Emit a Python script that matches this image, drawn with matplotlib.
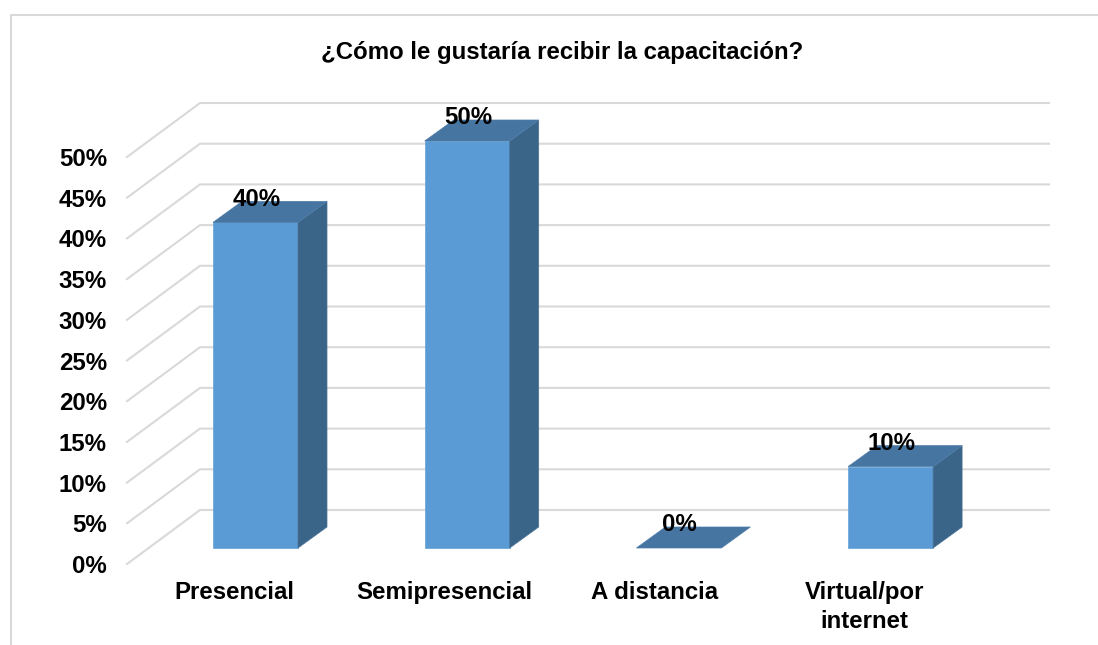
import numpy as np
import matplotlib
matplotlib.use("Agg")
import matplotlib.pyplot as plt
from matplotlib.patches import Polygon

plt.rcParams['font.family'] = ['Liberation Sans', 'DejaVu Sans']

categorias = ["Presencial", "Semipresencial", "A distancia", "Virtual/por\ninternet"]
valores = [40, 50, 0, 10]
ticks = [0, 5, 10, 15, 20, 25, 30, 35, 40, 45, 50]

W, H = 1098, 645
paso = 211.7   # px por categoria
px_pct = 8.14  # px por 1%
x0 = 255.5
y0 = 548
fs = 17.3

fig = plt.figure(figsize=(W / 100, H / 100), dpi=100)
ax = fig.add_axes([0, 0, 1, 1])
ax.set_xlim(-x0 / paso, (W - x0) / paso)
ax.set_ylim((y0 - H) / px_pct, y0 / px_pct)
ax.axis("off")

# marco
gris = "#d9d9d9"
def xd(p): return (p - x0) / paso
def yd(p): return (y0 - p) / px_pct
ax.plot([xd(11), xd(11), xd(1098)], [yd(645), yd(15), yd(15)], color=gris, lw=1.5, zorder=1)

# rejilla
for t in ticks:
    ax.plot([xd(127), xd(200), xd(1049)],
            [t + yd(564), t + yd(510), t + yd(510)], color=gris, lw=1.5, zorder=2,
            solid_joinstyle="miter")
    ax.text(xd(107), t + yd(566.5), "%d%%" % t, ha="right", va="center", fontsize=fs, fontweight="bold")

# barras
ancho = 85 / paso
dx = 29 / paso
dy = 21 / px_pct
for i, v in enumerate(valores):
    l = i - ancho / 2
    r = i + ancho / 2
    if v > 0:
        ax.add_patch(Polygon([(l, 0), (r, 0), (r, v), (l, v)], fc="#5b9bd5", ec="#6fa7da", lw=0.6, zorder=3))
        ax.add_patch(Polygon([(r, 0), (r + dx, dy), (r + dx, v + dy), (r, v)], fc="#3b6588", ec="#4a7397", lw=0.5, zorder=3))
    ax.add_patch(Polygon([(l, v), (r, v), (r + dx, v + dy), (l + dx, v + dy)], fc="#4675a1", ec="#4f7da9", lw=0.5, zorder=3))
    ax.text(i + 0.004, v + dy + 0.25, "%d%%" % v, ha="center", va="center", fontsize=fs, fontweight="bold", zorder=5)

# etiquetas
for i, c in enumerate(categorias):
    xt = i * 210 / paso - 0.1
    ax.text(xt, yd(592.5), c.split("\n")[0], ha="center", va="center", fontsize=fs, fontweight="bold")
    if "\n" in c:
        ax.text(xt, yd(621), c.split("\n")[1], ha="center", va="center", fontsize=fs, fontweight="bold")

ax.text(xd(562), yd(52), "¿Cómo le gustaría recibir la capacitación?", ha="center", va="center",
        fontsize=fs, fontweight="bold")

plt.savefig("out.png", dpi=100)
